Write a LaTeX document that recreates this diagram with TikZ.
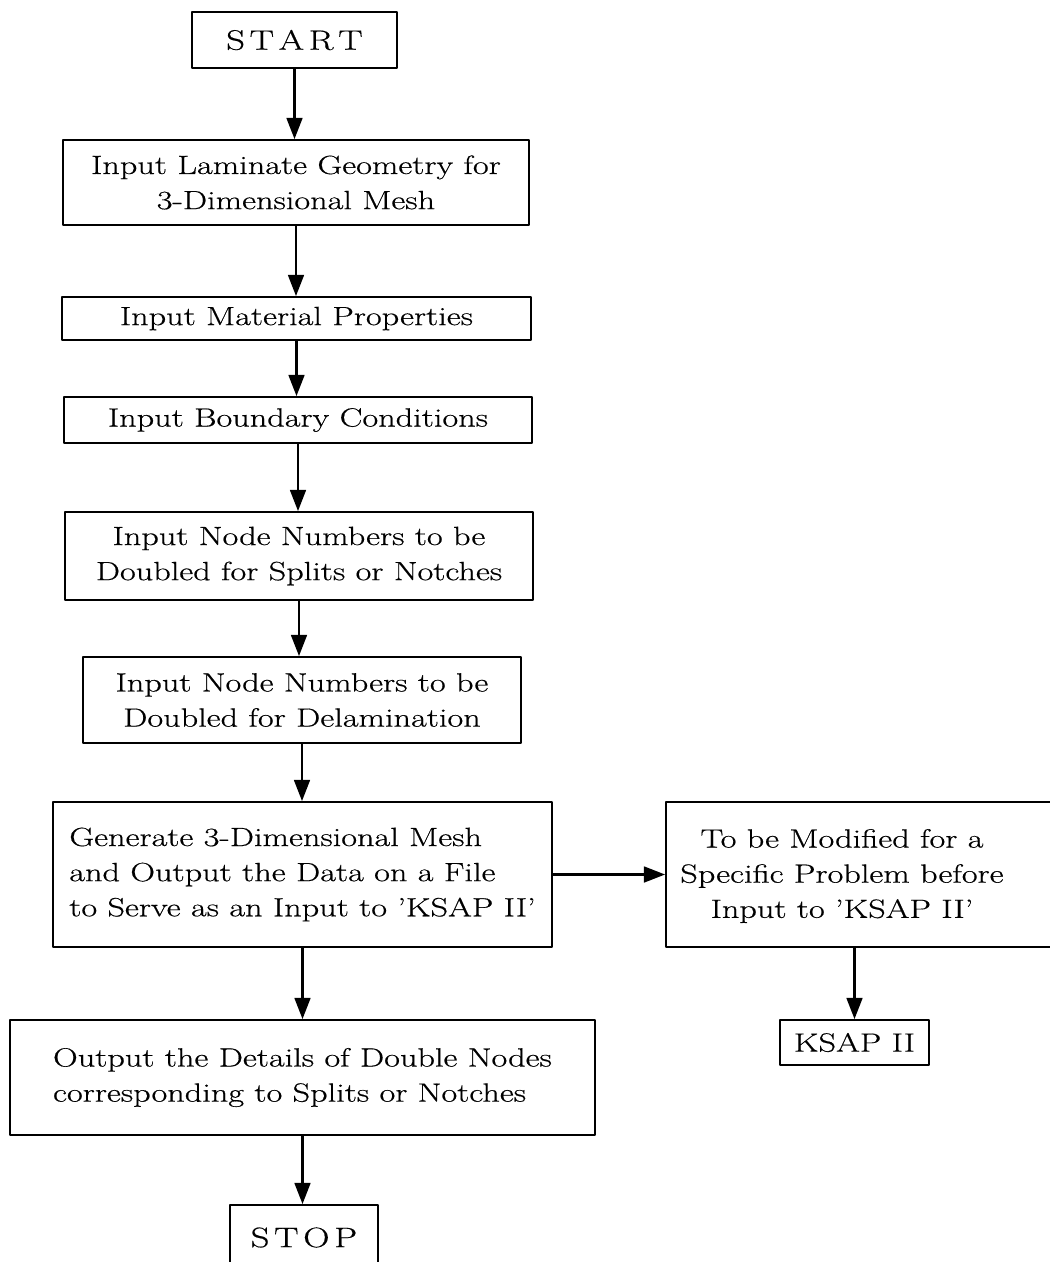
\documentclass[tikz,border=0pt]{standalone}
\usepackage{fontspec}
\setmainfont{Latin Modern Roman}[FakeStretch=1.3,FakeBold=0.5]
\usetikzlibrary{arrows.meta,positioning}

\begin{document}
\begin{tikzpicture}[x=0.02cm,y=-0.02cm,line cap=round,line join=round,
 box/.style={draw,line width=1.1pt,inner sep=0pt,align=center,
  font=\fontsize{15}{20}\selectfont},
 endbox/.style={box,font=\fontsize{16}{20}\selectfont},
 flow/.style={-{Triangle[length=12pt,width=9pt]},line width=1.2pt}]
\useasboundingbox (0,0) rectangle (1050,1262);
% Hauptspalte des Ablaufs
\node[endbox,minimum width=4.1cm,minimum height=1.12cm] (start) at (294.5,40) {S\,T\,A\,R\,T};
\node[box,minimum width=9.32cm,minimum height=1.7cm] (geom) at (296,182.5)
 {Input Laminate Geometry for\\3-Dimensional Mesh};
\node[box,minimum width=9.38cm,minimum height=0.86cm] (mat) at (296.5,318.5)
 {Input Material Properties};
\node[box,minimum width=9.36cm,minimum height=0.92cm] (bound) at (298,420)
 {Input Boundary Conditions};
\node[box,minimum width=9.36cm,minimum height=1.76cm] (splits) at (299,556)
 {Input Node Numbers to be\\Doubled for Splits or Notches};
\node[box,minimum width=8.76cm,minimum height=1.72cm] (delam) at (302,700)
 {Input Node Numbers to be\\Doubled for Delamination};
\node[box,align=left,minimum width=9.98cm,minimum height=2.9cm] (gen) at (302.5,874.5)
 {Generate 3-Dimensional Mesh\\and Output the Data on a File\\to Serve as an Input to 'KSAP II'};
\node[box,align=left,minimum width=11.7cm,minimum height=2.3cm] (out) at (302.5,1077.5)
 {Output the Details of Double Nodes\\corresponding to Splits or Notches};
\node[endbox,minimum width=2.96cm,minimum height=1.3cm] (stop) at (304,1237.5) {S\,T\,O\,P};
% Seitenzweig, Kasten ragt rechts aus dem Bild
\node[box,minimum width=7.98cm,minimum height=2.9cm] (modbox) at (865.5,874.5) {};
\node[align=center,font=\fontsize{15}{20}\selectfont] (modtext) at (842,876)
 {To be Modified for a\\Specific Problem before\\Input to 'KSAP II'};
\node[box,minimum width=2.98cm,minimum height=0.9cm] (ksap) at (854.5,1042.5) {KSAP II};
% Pfeile
\draw[flow] (start.south) -- (start.south |- geom.north);
\draw[flow] (geom.south) -- (geom.south |- mat.north);
\draw[flow] (mat.south) -- (mat.south |- bound.north);
\draw[flow] (bound.south) -- (bound.south |- splits.north);
\draw[flow] (splits.south) -- (splits.south |- delam.north);
\draw[flow] (delam.south) -- (delam.south |- gen.north);
\draw[flow] (gen.south) -- (gen.south |- out.north);
\draw[flow] (out.south) -- (out.south |- stop.north);
\draw[flow] (gen.east) -- (modbox.west);
\draw[flow] (ksap.north |- modbox.south) -- (ksap.north);
\end{tikzpicture}
\end{document}
